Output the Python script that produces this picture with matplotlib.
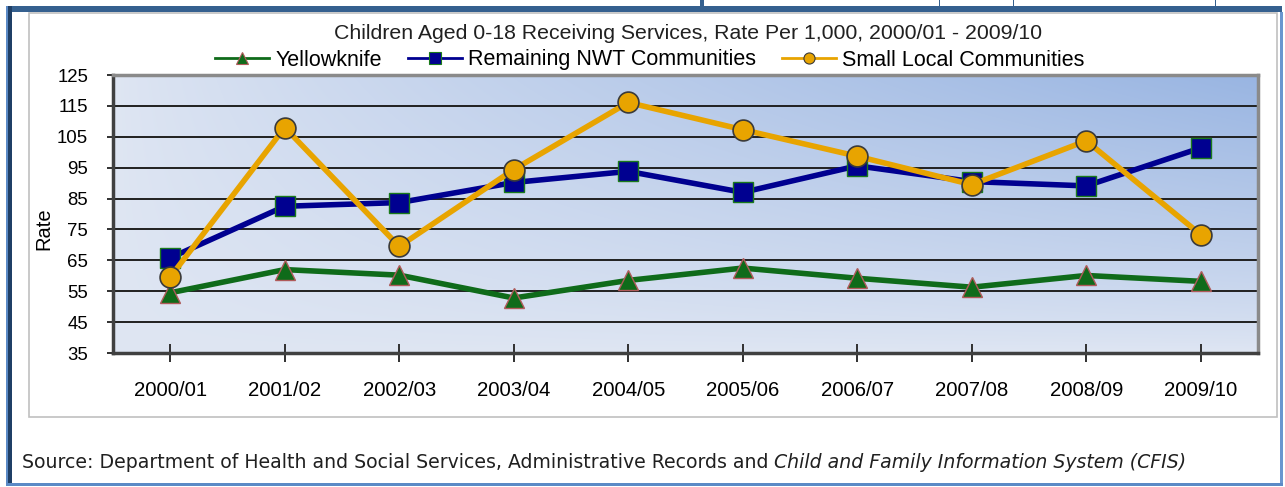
import numpy as np
import matplotlib
matplotlib.use("Agg")
import matplotlib.pyplot as plt
from matplotlib.patches import Rectangle
from matplotlib.lines import Line2D
import matplotlib.colors as mcolors

# ---- data ----
years = ["2000/01", "2001/02", "2002/03", "2003/04", "2004/05",
         "2005/06", "2006/07", "2007/08", "2008/09", "2009/10"]
yellowknife = [54.5, 62.0, 60.2, 52.8, 58.5, 62.5, 59.2, 56.3, 60.1, 58.2]
remaining_nwt = [65.8, 82.5, 83.7, 90.2, 93.8, 87.0, 95.6, 90.5, 89.1, 101.4]
small_local = [59.6, 108.0, 69.5, 94.4, 116.1, 107.3, 98.7, 89.5, 103.7, 73.3]
yticks = [35, 45, 55, 65, 75, 85, 95, 105, 115, 125]
series_names = ["Yellowknife", "Remaining NWT Communities", "Small Local Communities"]
title = "Children Aged 0-18 Receiving Services, Rate Per 1,000, 2000/01 - 2009/10"
source_plain = "Source: Department of Health and Social Services, Administrative Records and "
source_italic = "Child and Family Information System (CFIS)"

W, H = 1285, 487
fig = plt.figure(figsize=(W / 100, H / 100), dpi=100)
fig.patch.set_facecolor("white")

def px_rect(x0, y0, x1, y1, color, z=0):
    r = Rectangle((x0 / W, 1 - y1 / H), (x1 - x0) / W, (y1 - y0) / H,
                  transform=fig.transFigure, facecolor=color, edgecolor="none",
                  zorder=z)
    fig.patches.append(r)

# page frame decorations
px_rect(6, 6, 1282, 12, "#35608f")
px_rect(6, 6, 8, 486, "#5b8ac6")
px_rect(8, 6, 12, 486, "#1f3f66")
px_rect(1280, 12, 1283, 486, "#6a96cf")
px_rect(6, 483, 1283, 486, "#5b8ac6")
for xv, wv, c in [(700, 4, "#35608f"), (939, 1.2, "#35608f"),
                  (1013, 1.2, "#35608f"), (1215, 1.2, "#35608f")]:
    px_rect(xv, 0, xv + wv, 6, c)
fig.patches.append(Rectangle((29 / W, 1 - 417 / H), (1277 - 29) / W, (417 - 13) / H,
                             transform=fig.transFigure, facecolor="none",
                             edgecolor="#c0c0c0", linewidth=1.2, zorder=1))

# ---- axes ----
ax = fig.add_axes([113 / W, 1 - 353 / H, (1258 - 113) / W, (353 - 75) / H])
ax.set_xlim(-0.5, len(years) - 0.5)
ax.set_ylim(35, 125)

nx, ny = 300, 100
GX, GY = np.meshgrid(np.linspace(0, 1, nx), np.linspace(0, 1, ny))
t = np.clip(GX * GY, 0, 1) ** 0.8
light = np.array(mcolors.to_rgb("#dfe6f3"))
dark = np.array(mcolors.to_rgb("#99b5e2"))
img = light[None, None, :] * (1 - t[..., None]) + dark[None, None, :] * t[..., None]
ax.imshow(img, extent=[0, 1, 0, 1], transform=ax.transAxes, origin="lower",
          aspect="auto", zorder=0, interpolation="bilinear")

for yv in yticks[1:-1]:
    ax.axhline(yv, color="#202020", linewidth=1.4, zorder=1)

styles = [
    dict(color="#0f6b1a", marker="^", mfc="#0f6b1a", mec="#b05a5a", mew=1, ms=15),
    dict(color="#000090", marker="s", mfc="#000090", mec="#1a7a1a", mew=1, ms=14),
    dict(color="#e8a400", marker="o", mfc="#e8a400", mec="#3a3a3a", mew=1.2, ms=15),
]
x = np.arange(len(years))
handles = []
for i, (vals, st) in enumerate(zip([yellowknife, remaining_nwt, small_local], styles)):
    ax.plot(x, vals, color=st["color"], linewidth=4, marker=st["marker"],
            markersize=st["ms"], markerfacecolor=st["mfc"], markeredgecolor=st["mec"],
            markeredgewidth=st["mew"], zorder=3 + i)
    handles.append(Line2D([], [], color=st["color"], linewidth=2, marker=st["marker"],
                          markersize=8, markerfacecolor=st["mfc"],
                          markeredgecolor=st["mec"], markeredgewidth=0.8))

ax.set_yticks(yticks)
ax.set_yticklabels([str(v) for v in yticks], fontsize=13.4, family="Liberation Sans")
ax.set_xticks(x)
ax.set_xticklabels(years, fontsize=14.7, family="Liberation Sans")
ax.tick_params(axis="y", direction="out", length=4.5, width=1.4, color="#303030", pad=13.5)
ax.tick_params(axis="x", direction="inout", length=13, width=1.4, color="#303030", pad=14)
for s in ["top", "right"]:
    ax.spines[s].set_color("#8a8a8a")
    ax.spines[s].set_linewidth(2.5)
for s in ["left", "bottom"]:
    ax.spines[s].set_color("#404040")
    ax.spines[s].set_linewidth(2.5)
ax.set_ylabel("Rate", fontsize=14.5, family="Liberation Sans")
ax.yaxis.set_label_coords((53 - 113) / (1258 - 113), (353 - 229) / (353 - 75))

fig.text(688 / W, 1 - 33 / H, title, ha="center", va="center", fontsize=15.3,
         family="Liberation Sans", color="#202020")
fig.legend(handles, series_names, loc="center", bbox_to_anchor=(650 / W, 1 - 60 / H),
           ncol=3, frameon=False, prop={"family": "Liberation Sans", "size": 15.5},
           handlelength=2.5, columnspacing=1.2, handletextpad=0.3)

t1 = fig.text(22 / W, 1 - 463 / H, source_plain, ha="left", va="center",
              fontsize=13.6, family="DejaVu Sans", color="#202020")
fig.canvas.draw()
bb = t1.get_window_extent()
fig.text(bb.x1 / W, 1 - 463 / H, source_italic, ha="left", va="center",
         fontsize=13.6, family="DejaVu Sans", style="italic", color="#202020")

fig.savefig("out.png", dpi=100)
